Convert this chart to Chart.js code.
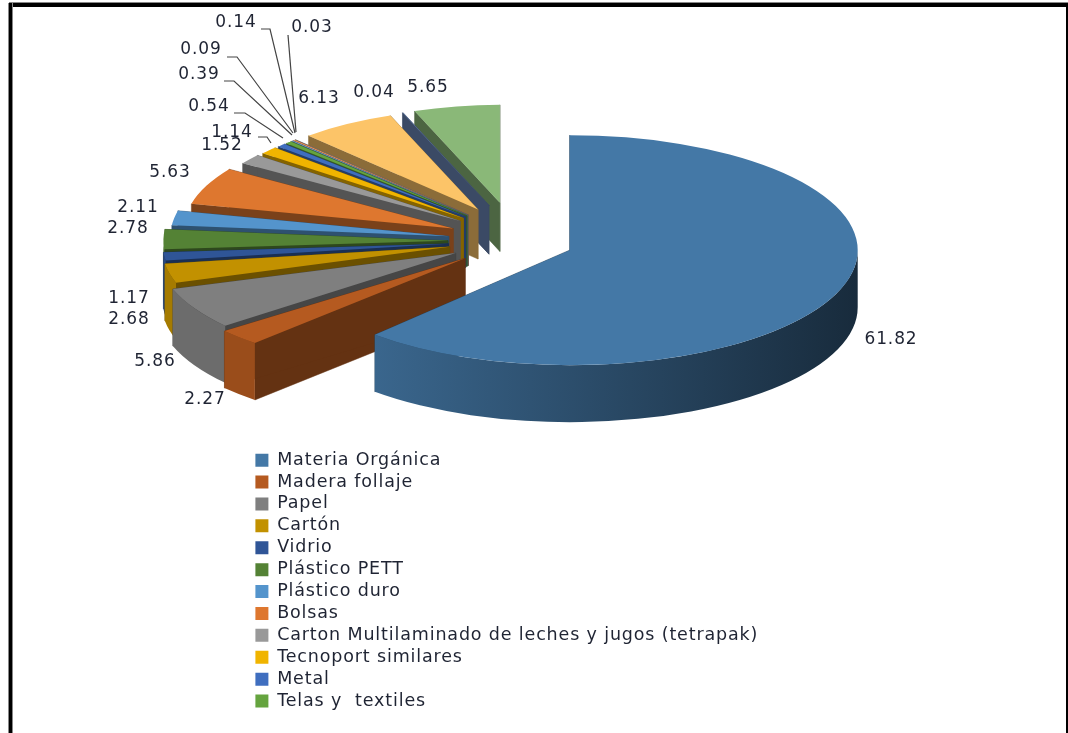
<!DOCTYPE html>
<html><head><meta charset="utf-8">
<style>
html,body{margin:0;padding:0;background:#fff;overflow:hidden}
#wrap{position:relative;width:1068px;height:733px;overflow:hidden}
canvas{position:absolute;left:0;top:0;filter:blur(0.45px)}
.f{position:absolute;background:#000}
</style>
<script src="https://cdn.jsdelivr.net/npm/chart.js@4"></script>
</head><body>
<div id="wrap">
<canvas id="c" width="1068" height="733"></canvas>
<div class="f" style="left:9px;top:3px;width:1059px;height:4px;box-shadow:0 -1px 0 #888"></div>
<div class="f" style="left:9px;top:3px;width:3px;height:730px;box-shadow:-1px 0 0 #888,1px 0 0 #888"></div>
<div class="f" style="left:1066px;top:3px;width:2px;height:730px"></div>
</div>
<script>
const categories = ["Materia Orgánica","Madera follaje","Papel","Cartón","Vidrio","Plástico PETT","Plástico duro","Bolsas","Carton Multilaminado de leches y jugos (tetrapak)","Tecnoport similares","Metal","Telas y  textiles","","","","","",""];
const values = [61.82,2.27,5.86,2.68,1.17,2.78,2.11,5.63,1.52,1.14,0.54,0.39,0.09,0.14,0.03,6.13,0.04,5.65];
const sliceColors = ["#4478a6","#b55a20","#7f7f7f","#c29100","#2f5597","#548235","#5494cc","#de772f","#999999","#f0b400","#3f6ebf","#65a43f","#7cafdd","#f1975a","#b7b7b7","#fcc468","#6b86b8","#8ab878"];
const legendCount = 12;

// value-label placement (centres, in page pixels), same order as values
const labelX = [891,205,155,129,129,128,138,170,222,232,209,199,201,236,312,319,374,428];
const labelY = [340,400,362,320,299,229,208,173,146,133,107,75,50,23,28,99,93,88];
// leader lines
const leaders = [
  [[261,29],[270,29],[295,133]],
  [[288,35],[296,132]],
  [[227,57],[237,57],[293,133]],
  [[224,81],[234,81],[292,135]],
  [[234,113],[245,113],[283,138]],
  [[258,137],[267,137],[271,143]]
];
// 3D look
const view = {cx:511, cy:241, rx:288, ry:115, explode:63, depth:57, left:251, top:447};
const fontFamily = '"DejaVu Sans", sans-serif';
const textColor = "#1f2433";
const legendSpacing = '0.85px';

function shade(hex,f){
  const n=parseInt(hex.slice(1),16);
  const c=[(n>>16)&255,(n>>8)&255,n&255].map(v=>Math.round(v*f));
  return `rgb(${c[0]},${c[1]},${c[2]})`;
}
// approximate perspective: slices nearer the back are drawn smaller
function depthScale(mid,span){
  if(span>Math.PI) return 1;
  const s=Math.sin(mid);
  return s<0 ? 0.99-0.14*(-s) : 0.99+0.19*s*s;
}

const pie3d = {
  id:'pie3d',
  beforeLayout(chart){ chart.ctx.letterSpacing=legendSpacing; },
  beforeDraw(chart){ chart.ctx.letterSpacing=legendSpacing; },
  afterLayout(chart){
    const l=chart.legend, w=l.width, h=l.height;
    l.left=view.left; l.right=view.left+w; l.top=view.top; l.bottom=view.top+h;
  },
  beforeDatasetsDraw(chart){
    const ctx=chart.ctx, arcs=chart.getDatasetMeta(0).data;
    const ratio=view.ry/view.rx;
    for(let i=arcs.length-1;i>=0;i--){
      const el=arcs[i], col=sliceColors[i];
      const a0=el.startAngle, a1=el.endAngle, mid=(a0+a1)/2;
      const f=depthScale(mid,a1-a0), back=f<1;
      const rx=view.rx*f, ry=back?view.ry*f:view.ry;
      const ax=view.cx+view.explode*Math.cos(mid);
      let ay=view.cy+view.explode*ratio*Math.sin(mid);
      if(back) ay-=(1-f)*view.ry*Math.abs(Math.sin(mid))*0.8;
      const P=a=>[ax+rx*Math.cos(a), ay+ry*Math.sin(a)];
      const d=back?view.depth*f:view.depth;
      // radial cut walls
      ctx.fillStyle=ctx.strokeStyle=shade(col,0.55); ctx.lineWidth=0.5;
      for(const a of [a0,a1]){
        const p=P(a);
        ctx.beginPath();
        ctx.moveTo(ax,ay);ctx.lineTo(p[0],p[1]);ctx.lineTo(p[0],p[1]+d);ctx.lineTo(ax,ay+d);ctx.closePath();
        ctx.fill();ctx.stroke();
      }
      // outer rim wall
      const lo=Math.max(a0,0), hi=Math.min(a1,Math.PI);
      if(hi>lo){
        const g=ctx.createLinearGradient(375,0,858,0);
        g.addColorStop(0,shade(col,0.85));
        g.addColorStop(1,shade(col,0.36));
        ctx.fillStyle=g;
        ctx.beginPath();
        ctx.ellipse(ax,ay,rx,ry,0,lo,hi,false);
        ctx.ellipse(ax,ay+d,rx,ry,0,hi,lo,true);
        ctx.closePath();ctx.fill();
      }
      // top face, drawn by the library's arc element
      ctx.save();
      ctx.translate(ax,ay);
      ctx.scale(rx/el.outerRadius,ry/el.outerRadius);
      ctx.translate(-el.x,-el.y);
      el.draw(ctx);
      ctx.restore();
    }
    return false;
  },
  afterDraw(chart){
    const ctx=chart.ctx;
    ctx.save();
    ctx.strokeStyle="#444";ctx.lineWidth=1.2;
    leaders.forEach(pts=>{
      ctx.beginPath();
      pts.forEach((p,k)=>k?ctx.lineTo(p[0],p[1]):ctx.moveTo(p[0],p[1]));
      ctx.stroke();
    });
    ctx.letterSpacing='0.9px';
    ctx.font='17px '+fontFamily;ctx.fillStyle=textColor;
    ctx.textAlign='center';ctx.textBaseline='middle';
    values.forEach((v,i)=>ctx.fillText(v.toFixed(2),labelX[i],labelY[i]));
    ctx.restore();
  }
};

new Chart(document.getElementById('c'),{
  type:'pie',
  data:{labels:categories,datasets:[{data:values,backgroundColor:sliceColors,borderWidth:0}]},
  options:{
    responsive:false,animation:false,
    plugins:{
      tooltip:{enabled:false},
      legend:{
        position:'left',align:'start',maxWidth:700,
        labels:{
          boxWidth:13,boxHeight:13,padding:4.4,color:textColor,
          font:{family:fontFamily,size:17.5},
          filter:(item)=>item.index<legendCount
        }
      }
    }
  },
  plugins:[pie3d]
});
</script>
</body></html>
